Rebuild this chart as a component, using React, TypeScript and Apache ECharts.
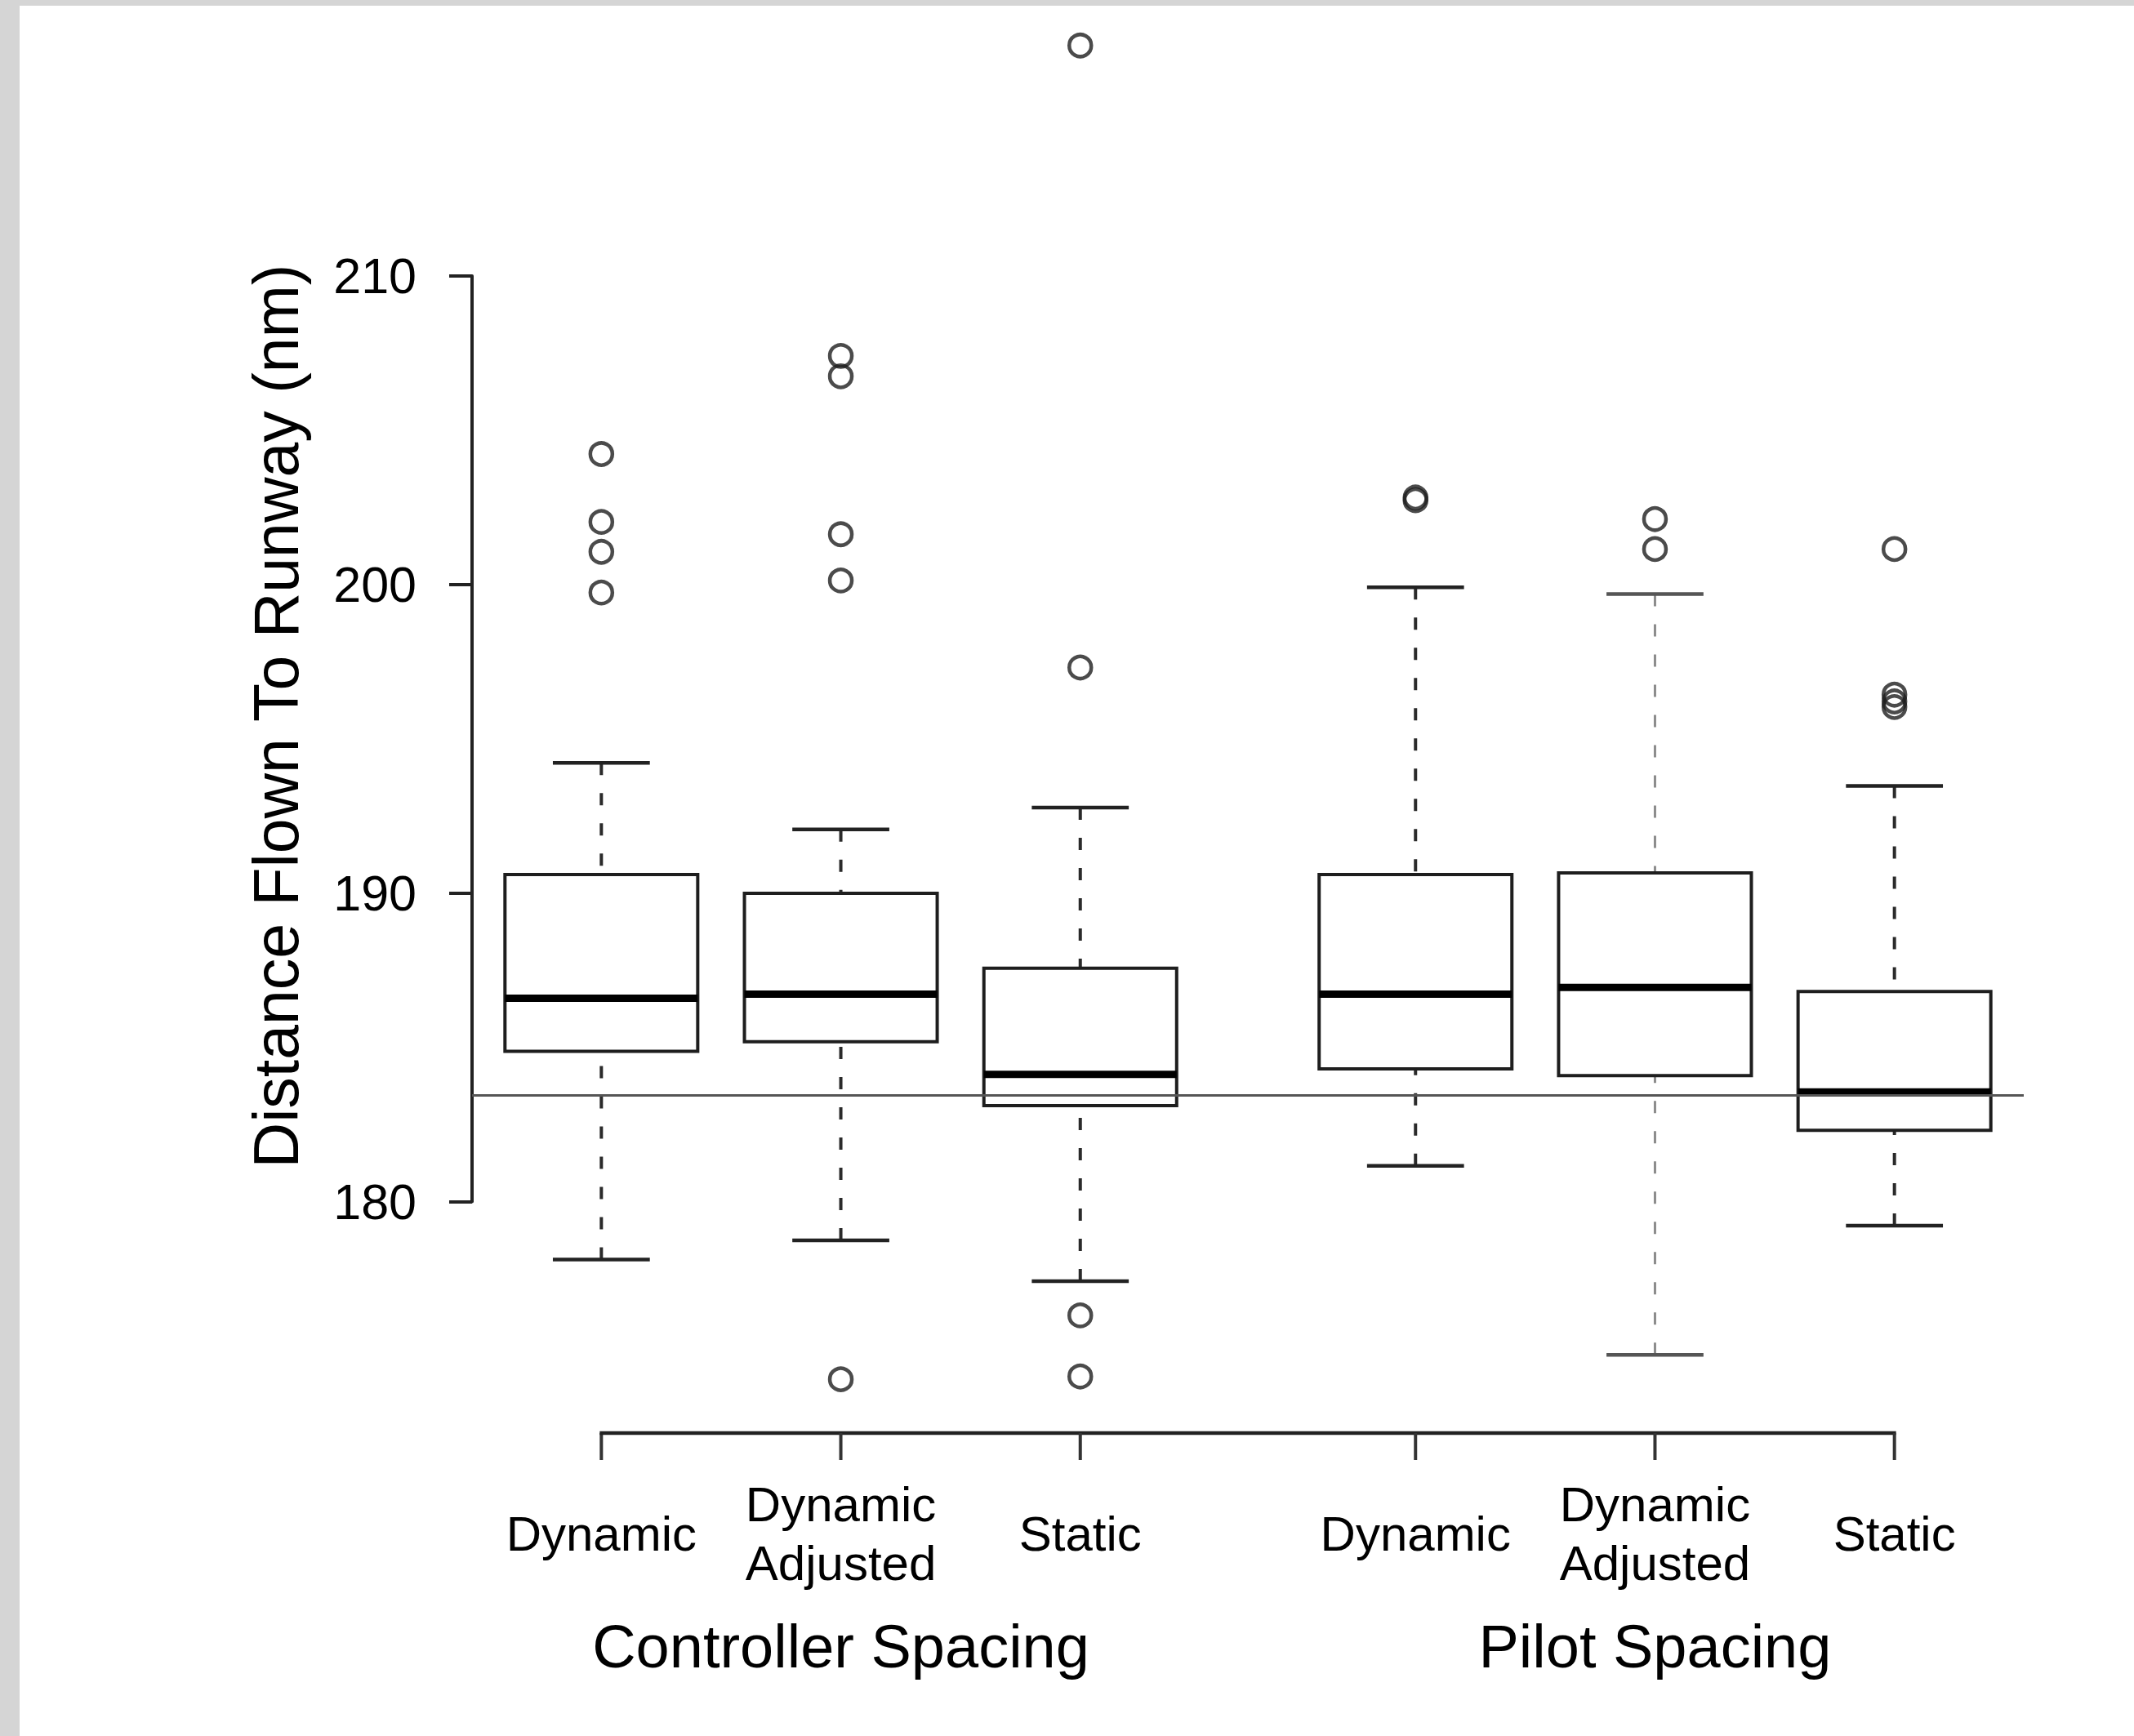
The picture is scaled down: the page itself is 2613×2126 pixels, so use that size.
import React, { useEffect, useRef } from "react";
import * as echarts from "echarts";

// ---------- data ----------
const POSITIONS = [1, 2, 3, 4.4, 5.4, 6.4];
const CATEGORIES = ["Dynamic", "Dynamic\nAdjusted", "Static", "Dynamic", "Dynamic\nAdjusted", "Static"];
const GROUPS = ["Controller Spacing", "Pilot Spacing"];
const GROUP_CENTERS = [2, 5.4];

const LOWER_WHISKER = [178.12, 178.74, 177.42, 181.16, 175.03, 179.22];
const Q1 = [184.87, 185.18, 183.11, 184.3, 184.08, 182.31];
const MEDIAN = [186.59, 186.72, 184.12, 186.72, 186.94, 183.55];
const Q3 = [190.6, 189.99, 187.56, 190.6, 190.65, 186.81];
const UPPER_WHISKER = [194.22, 192.06, 192.77, 199.91, 199.69, 193.47];
const OUTLIERS = [
  [204.23, 202.03, 201.06, 199.74],
  [207.41, 206.75, 201.63, 200.13, 174.24],
  [217.47, 197.31, 176.31, 174.33],
  [202.82, 202.73],
  [202.12, 201.15],
  [201.15, 196.43, 196.21, 196.03],
];
const REFERENCE = 183.46;

const Y_MIN = 180;
const Y_MAX = 210;
const Y_INTERVAL = 10;
const X_MIN = 0.46;
const X_MAX = 6.94;

const Y_TITLE = "Distance Flown To Runway (nm)";

// ---------- styles / layout ----------
const FONT = '"Liberation Sans", Arial, Helvetica, sans-serif';
const BOX_WIDTH = 0.805;
const CAP_WIDTH = 0.405;
const BRACKET_OFFSET = 283.5;
const BRACKET_TICK = 33;
const CAT_LABEL_OFFSET = 406.5;
const GROUP_LABEL_OFFSET = 544.5;

export default function App() {
  const ref = useRef<HTMLDivElement>(null);

  useEffect(() => {
    if (!ref.current) return;
    const chart = echarts.init(ref.current, null, { renderer: "svg" });

    const boxData = POSITIONS.map((x, i) => [
      x,
      LOWER_WHISKER[i],
      Q1[i],
      MEDIAN[i],
      Q3[i],
      UPPER_WHISKER[i],
    ]);
    const outlierData: number[][] = [];
    OUTLIERS.forEach((arr, i) => arr.forEach((v) => outlierData.push([POSITIONS[i], v])));

    const option: any = {
      animation: false,
      backgroundColor: "#ffffff",
      grid: { left: 578, right: 135, top: 338, bottom: 654.5, containLabel: false },
      xAxis: { type: "value", min: X_MIN, max: X_MAX, show: false },
      yAxis: {
        type: "value",
        min: Y_MIN,
        max: Y_MAX,
        interval: Y_INTERVAL,
        axisLine: { show: true, lineStyle: { color: "#222", width: 4 } },
        axisTick: { show: true, length: 28, lineStyle: { color: "#222", width: 4 } },
        axisLabel: { show: true, fontSize: 61, color: "#000", fontFamily: FONT, margin: 68 },
        splitLine: { show: false },
      },
      graphic: [
        { type: "rect", shape: { x: 0, y: 0, width: 24, height: 2126 }, style: { fill: "#d5d5d5" } },
        { type: "rect", shape: { x: 0, y: 0, width: 2613, height: 7 }, style: { fill: "#d5d5d5" } },
        {
          type: "text",
          x: 338,
          y: 877,
          rotation: Math.PI / 2,
          style: {
            text: Y_TITLE,
            fontSize: 77,
            fontFamily: FONT,
            fill: "#000",
            align: "center",
            verticalAlign: "middle",
          },
        },
      ],
      series: [
        {
          type: "custom",
          name: "boxes",
          clip: false,
          silent: true,
          data: boxData,
          encode: { x: 0, y: [1, 2, 3, 4, 5] },
          renderItem: (params: any, api: any) => {
            const x = api.value(0);
            const lo = api.coord([x, api.value(1)]);
            const q1 = api.coord([x, api.value(2)]);
            const md = api.coord([x, api.value(3)]);
            const q3 = api.coord([x, api.value(4)]);
            const hi = api.coord([x, api.value(5)]);
            const bw = api.size([BOX_WIDTH, 0])[0];
            const cw = api.size([CAP_WIDTH, 0])[0];
            const cx = lo[0];
            const light = params.dataIndex === 4;
            const wColor = light ? "#8c8c8c" : "#2a2a2a";
            const wWidth = light ? 3 : 4;
            return {
              type: "group",
              children: [
                {
                  type: "line",
                  shape: { x1: cx, y1: hi[1], x2: cx, y2: q3[1] },
                  style: { stroke: wColor, lineWidth: wWidth, lineDash: [15, 22] },
                },
                {
                  type: "line",
                  shape: { x1: cx, y1: lo[1], x2: cx, y2: q1[1] },
                  style: { stroke: wColor, lineWidth: wWidth, lineDash: [15, 22] },
                },
                {
                  type: "line",
                  shape: { x1: cx - cw / 2, y1: hi[1], x2: cx + cw / 2, y2: hi[1] },
                  style: { stroke: light ? "#555" : "#222", lineWidth: 4.5 },
                },
                {
                  type: "line",
                  shape: { x1: cx - cw / 2, y1: lo[1], x2: cx + cw / 2, y2: lo[1] },
                  style: { stroke: light ? "#555" : "#222", lineWidth: 4.5 },
                },
                {
                  type: "rect",
                  shape: { x: cx - bw / 2, y: q3[1], width: bw, height: q1[1] - q3[1] },
                  style: { fill: "none", stroke: "#1e1e1e", lineWidth: 4 },
                },
                {
                  type: "line",
                  shape: { x1: cx - bw / 2, y1: md[1], x2: cx + bw / 2, y2: md[1] },
                  style: { stroke: "#000", lineWidth: 9 },
                },
              ],
            };
          },
          z: 3,
        },
        {
          type: "scatter",
          name: "outliers",
          clip: false,
          silent: true,
          data: outlierData,
          symbol: "circle",
          symbolSize: 27,
          itemStyle: { color: "rgba(0,0,0,0)", borderColor: "#1e1e1e", borderWidth: 4.5 },
          z: 4,
          markLine: {
            silent: true,
            symbol: ["none", "none"],
            label: { show: false },
            lineStyle: { type: "solid", color: "#555", width: 3 },
            data: [{ yAxis: REFERENCE }],
          },
        },
        {
          type: "custom",
          name: "xaxis",
          clip: false,
          silent: true,
          data: POSITIONS.map((x, i) => [x, i]),
          encode: { x: 0 },
          renderItem: (params: any, api: any) => {
            const i = params.dataIndex;
            const x = api.value(0);
            const base = api.coord([x, Y_MIN]);
            const by = base[1] + BRACKET_OFFSET;
            const children: any[] = [
              {
                type: "line",
                shape: { x1: base[0], y1: by, x2: base[0], y2: by + BRACKET_TICK },
                style: { stroke: "#333", lineWidth: 4 },
              },
              {
                type: "text",
                x: base[0],
                y: base[1] + CAT_LABEL_OFFSET,
                style: {
                  text: CATEGORIES[i],
                  fontSize: 60,
                  fontFamily: FONT,
                  fill: "#000",
                  align: "center",
                  verticalAlign: "middle",
                  lineHeight: 72,
                },
              },
            ];
            if (i === 0) {
              const last = api.coord([POSITIONS[POSITIONS.length - 1], Y_MIN]);
              children.push({
                type: "line",
                shape: { x1: base[0] - 2, y1: by, x2: last[0] + 2, y2: by },
                style: { stroke: "#222", lineWidth: 4.5 },
              });
            }
            return { type: "group", children };
          },
          z: 3,
        },
        {
          type: "custom",
          name: "groups",
          clip: false,
          silent: true,
          data: GROUP_CENTERS.map((x, i) => [x, i]),
          encode: { x: 0 },
          renderItem: (params: any, api: any) => {
            const p = api.coord([api.value(0), Y_MIN]);
            return {
              type: "text",
              x: p[0],
              y: p[1] + GROUP_LABEL_OFFSET,
              style: {
                text: GROUPS[params.dataIndex],
                fontSize: 74,
                fontFamily: FONT,
                fill: "#000",
                align: "center",
                verticalAlign: "middle",
              },
            };
          },
          z: 3,
        },
      ],
    };

    chart.setOption(option);
    return () => chart.dispose();
  }, []);

  return (
    <div
      ref={ref}
      style={{ position: "absolute", left: 0, top: 0, width: 2613, height: 2126 }}
    />
  );
}
